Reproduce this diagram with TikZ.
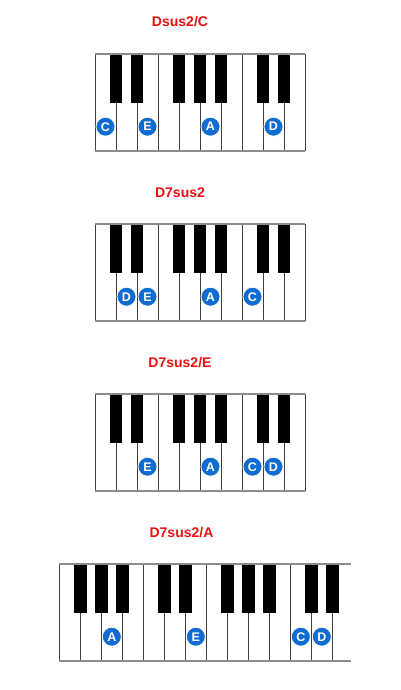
\documentclass[tikz,border=0pt]{standalone}
\usepackage{fontspec}
\setmainfont{Liberation Sans}
\usetikzlibrary{positioning}

\definecolor{notecol}{RGB}{16,108,208}
\definecolor{framecol}{RGB}{140,140,140}
\definecolor{titlecol}{RGB}{238,16,16}

\tikzset{
  chordtitle/.style={text=titlecol, font=\bfseries\fontsize{14}{14}\selectfont, inner sep=0pt},
  notedot/.style={circle, fill=notecol, draw=white, line width=0.8pt, inner sep=0pt, minimum size=19pt, text=white, font=\bfseries\fontsize{12.5}{12.5}\selectfont},
  keyline/.style={draw=black!75, line width=1pt},
  blackkey/.style={fill=black},
  frameline/.style={draw=framecol, line width=2pt},
}

\begin{document}
\begin{tikzpicture}[x=1pt, y=-1pt]
    \useasboundingbox[fill=white] (0,0) rectangle (400,690);

    % three small keyboards, C to E
    \foreach \y in {0,170,340} {
      \foreach \i in {0,...,10}
        \draw[keyline] ({95+21*\i},{54.3+\y}) -- ({95+21*\i},{150.7+\y});
      \foreach \b in {1,2,4,5,6,8,9}
        \fill[blackkey] ({95+21*\b-6.25},{54.3+\y}) rectangle ({95+21*\b+6.25},{102.7+\y});
      \draw[frameline] (95,{54.3+\y}) -- (305,{54.3+\y});
      \draw[frameline] (95,{150.7+\y}) -- (305,{150.7+\y});
    }

    % wide keyboard, F to E
    \foreach \i in {0,...,13}
      \draw[keyline] ({59.3+21*\i},564.3) -- ({59.3+21*\i},660.7);
    \foreach \b in {1,2,3,5,6,8,9,10,12,13}
      \fill[blackkey] ({59.3+21*\b-6.25},564.3) rectangle ({59.3+21*\b+6.25},612.7);
    \draw[frameline] (59.3,564.3) -- (351,564.3);
    \draw[frameline] (59.3,660.7) -- (351,660.7);

    % titles
    \node[chordtitle] (t1) at (180,22) {Dsus2/C};
    \node[chordtitle] (t2) at (180,192.3) {D7sus2};
    \node[chordtitle] (t3) at (180,362.3) {D7sus2/E};
    \node[chordtitle] (t4) at (181.5,532.3) {D7sus2/A};

    % Dsus2/C
    \node[notedot] (c1) at (105.5,126.7) {C};
    \node[notedot] (e1) at (147.5,126.7) {E};
    \node[notedot] (a1) at (210.5,126.7) {A};
    \node[notedot] (d1) at (273.5,126.7) {D};

    % D7sus2
    \node[notedot] (d2) at (126.5,296.7) {D};
    \node[notedot] (e2) at (147.5,296.7) {E};
    \node[notedot] (a2) at (210.5,296.7) {A};
    \node[notedot] (c2) at (252.5,296.7) {C};

    % D7sus2/E
    \node[notedot] (e3) at (147.5,466.7) {E};
    \node[notedot] (a3) at (210.5,466.7) {A};
    \node[notedot] (c3) at (252.5,466.7) {C};
    \node[notedot] (d3) at (273.5,466.7) {D};

    % D7sus2/A
    \node[notedot] (a4) at (111.8,636.7) {A};
    \node[notedot] (e4) at (195.8,636.7) {E};
    \node[notedot] (c4) at (300.8,636.7) {C};
    \node[notedot] (d4) at (321.8,636.7) {D};
  \end{tikzpicture}
\end{document}
